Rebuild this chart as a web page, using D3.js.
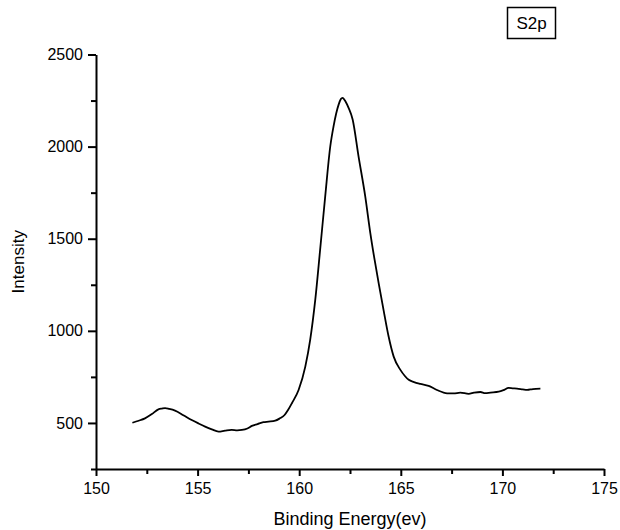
<!DOCTYPE html>
<html>
<head>
  <meta charset="UTF-8">
  <title>S2p</title>
  <script src="https://d3js.org/d3.v7.min.js"></script>
  <style>
    * { margin: 0; padding: 0; box-sizing: border-box; }
    body { background: #fff; font-family: "Liberation Sans", Arial, sans-serif; }
  </style>
</head>
<body>
  <div id="chart"></div>
  <script>
    // binding energy (eV) and intensity
    const energy = [151.79, 152.1, 152.41, 152.75, 153.07, 153.25, 153.4, 153.6, 153.89, 154.3, 154.71, 155.05, 155.37, 155.7, 156.03, 156.35, 156.68, 156.95, 157.18, 157.45, 157.67, 157.95, 158.24, 158.49, 158.82, 159.05, 159.28, 159.45, 159.64, 159.97, 160.3, 160.54, 160.79, 161.03, 161.28, 161.53, 161.69, 161.82, 161.94, 162.05, 162.13, 162.28, 162.43, 162.63, 162.92, 163.25, 163.5, 163.71, 163.91, 164.15, 164.4, 164.65, 164.98, 165.2, 165.39, 165.65, 165.96, 166.37, 166.78, 167.28, 167.6, 167.93, 168.34, 168.6, 168.92, 169.15, 169.41, 169.82, 170.05, 170.31, 170.5, 170.72, 171.0, 171.22, 171.5, 171.87];
    const intensity = [501, 512, 525, 548, 574, 578, 580, 576, 567, 542, 516, 497, 480, 465, 453, 458, 462, 460, 462, 470, 484, 494, 504, 507, 512, 525, 543, 570, 607, 679, 806, 951, 1168, 1440, 1730, 2002, 2110, 2180, 2228, 2258, 2265, 2245, 2210, 2147, 1947, 1730, 1531, 1386, 1259, 1114, 969, 860, 788, 755, 734, 722, 712, 701, 679, 661, 660, 665, 658, 664, 668, 662, 665, 670, 678, 690, 688, 686, 682, 679, 684, 686];
    const xTicks = [150, 155, 160, 165, 170, 175];
    const yTicks = [500, 1000, 1500, 2000, 2500];
    const xMinor = [152.5, 157.5, 162.5, 167.5, 172.5];
    const yMinor = [250, 750, 1250, 1750, 2250];

    const W = 620, H = 530;
    const margin = {top: 54.5, right: 16, bottom: 61, left: 96};

    const svg = d3.select("#chart").append("svg")
      .attr("width", W).attr("height", H);

    const x = d3.scaleLinear().domain([150, 175]).range([margin.left, W - margin.right]);
    const y = d3.scaleLinear().domain([250, 2500]).range([H - margin.bottom, margin.top]);

    // minor ticks
    svg.append("g")
      .attr("transform", `translate(0,${y(250)})`)
      .call(d3.axisBottom(x).tickValues(xMinor).tickSize(5).tickFormat(""))
      .call(g => g.select(".domain").remove())
      .selectAll("line").attr("stroke-width", 2);
    svg.append("g")
      .attr("transform", `translate(${x(150)},0)`)
      .call(d3.axisLeft(y).tickValues(yMinor).tickSize(5).tickFormat(""))
      .call(g => g.select(".domain").remove())
      .selectAll("line").attr("stroke-width", 2);

    // major axes
    const xAxis = svg.append("g")
      .attr("transform", `translate(0,${y(250)})`)
      .call(d3.axisBottom(x).tickValues(xTicks).tickSize(7).tickSizeOuter(0).tickPadding(7).tickFormat(d3.format("d")));
    const yAxis = svg.append("g")
      .attr("transform", `translate(${x(150)},0)`)
      .call(d3.axisLeft(y).tickValues(yTicks).tickSize(8).tickSizeOuter(0).tickPadding(5).tickFormat(d3.format("d")));

    [xAxis, yAxis].forEach(g => {
      g.selectAll("line, .domain").attr("stroke", "#000").attr("stroke-width", 2);
      g.selectAll("text")
        .attr("fill", "#000")
        .style("font-family", "'Liberation Sans', Arial, sans-serif")
        .style("font-size", "16px");
    });

    svg.append("path")
      .datum(energy.map((e, i) => [e, intensity[i]]))
      .attr("fill", "none")
      .attr("stroke", "#000")
      .attr("stroke-width", 1.8)
      .attr("stroke-linejoin", "round")
      .attr("d", d3.line().curve(d3.curveMonotoneX).x(d => x(d[0])).y(d => y(d[1])));

    svg.append("text")
      .attr("x", (x(150) + x(175)) / 2)
      .attr("y", 525)
      .attr("text-anchor", "middle")
      .style("font-size", "18px")
      .text("Binding Energy(ev)");

    svg.append("text")
      .attr("transform", `translate(24,${(y(250) + y(2500)) / 2}) rotate(-90)`)
      .attr("text-anchor", "middle")
      .style("font-size", "17px")
      .text("Intensity");

    // label box
    const lbl = svg.append("g");
    lbl.append("rect")
      .attr("x", 507.5).attr("y", 7.5)
      .attr("width", 48).attr("height", 31)
      .attr("fill", "#fff").attr("stroke", "#000").attr("stroke-width", 1.5);
    lbl.append("text")
      .attr("x", 531.5).attr("y", 29)
      .attr("text-anchor", "middle")
      .style("font-size", "17px")
      .text("S2p");
  </script>
</body>
</html>
